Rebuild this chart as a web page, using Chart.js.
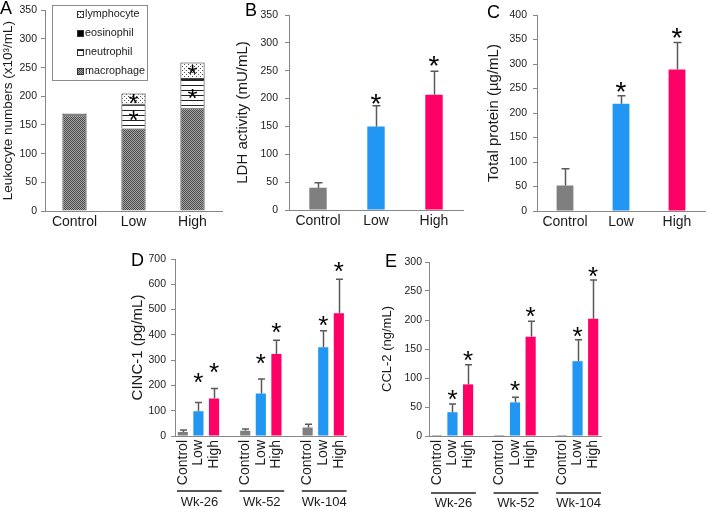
<!DOCTYPE html>
<html>
<head>
<meta charset="utf-8">
<script src="https://cdn.jsdelivr.net/npm/chart.js@4.4.1/dist/chart.umd.min.js"></script>
<style>
  html, body { margin: 0; padding: 0; background: #fff; }
  #page { position: relative; width: 708px; height: 508px; overflow: hidden; }
  canvas { position: absolute; }
</style>
</head>
<body>
<div id="page">
  <canvas id="chartA" width="230" height="240" style="left:0;top:0"></canvas>
  <canvas id="chartB" width="240" height="240" style="left:230px;top:0"></canvas>
  <canvas id="chartC" width="238" height="240" style="left:470px;top:0"></canvas>
  <canvas id="chartD" width="270" height="263" style="left:90px;top:245px"></canvas>
  <canvas id="chartE" width="250" height="263" style="left:365px;top:245px"></canvas>
</div>
<script>
// ================= DATA =================
const doses = ["Control", "Low", "High"];
const weeks = ["Wk-26", "Wk-52", "Wk-104"];

// A: leukocyte differential (x10^3/mL), stacked bottom to top
const cellTypes = ["macrophage", "neutrophil", "eosinophil", "lymphocyte"];
const macrophage = [167, 144, 179];
const neutrophil = [2, 42, 51];
const eosinophil = [0.5, 1, 2];
const lymphocyte = [1, 18, 27];
const starNeutrophil = [false, true, true];
const starLymphocyte = [false, true, true];
const yMaxA = 350, yStepA = 50;

// B: LDH activity (mU/mL)
const ldhMean = [40, 150, 207];
const ldhSd = [9, 37, 42];
const ldhStar = [null, 199, 267];
const yMaxB = 350, yStepB = 50;

// C: total protein (ug/mL)
const proteinMean = [52, 219, 289];
const proteinSd = [34, 16, 55];
const proteinStar = [null, 254, 363];
const yMaxC = 400, yStepC = 50;

// D: CINC-1 (pg/mL), one value per week
const cincControl = [16, 21, 34];
const cincLow = [98, 168, 351];
const cincHigh = [148, 324, 485];
const cincControlSd = [8, 7, 12];
const cincLowSd = [34, 57, 65];
const cincHighSd = [40, 55, 135];
const cincControlStar = [null, null, null];
const cincLowStar = [230, 304, 454];
const cincHighStar = [267, 429, 670];
const yMaxD = 700, yStepD = 100;

// E: CCL-2 (ng/mL), one value per week
const ccl2Control = [0.6, 0.6, 1];
const ccl2Low = [41, 58, 129];
const ccl2High = [89, 171, 202];
const ccl2ControlSd = [0, 0, 0];
const ccl2LowSd = [14, 9, 37];
const ccl2HighSd = [34, 27, 67];
const ccl2ControlStar = [null, null, null];
const ccl2LowStar = [70, 86, 180];
const ccl2HighStar = [138, 213, 283];
const yMaxE = 300, yStepE = 50;


// ================= STYLE =================
const FONT = "'Liberation Sans', Arial, sans-serif";
const AXIS = "#878787";
const TEXT = "#1a1a1a";
const ERR = "#5a5a5a";
const doseColors = ["#7f7f7f", "#2196f3", "#ff0066"];


// ================= PATTERNS =================
function makePattern(w, h, draw) {
    const c = document.createElement("canvas");
    c.width = w;
    c.height = h;
    const g = c.getContext("2d");
    draw(g);
    return g.createPattern(c, "repeat");
}

const cellFills = [
    makePattern(2, 2, g => {
        g.fillStyle = "#a6a6a6"; g.fillRect(0, 0, 2, 2);
        g.fillStyle = "#4a4a4a"; g.fillRect(0, 0, 1, 1); g.fillRect(1, 1, 1, 1);
    }),
    makePattern(1, 5, g => {
        g.fillStyle = "#ffffff"; g.fillRect(0, 0, 1, 5);
        g.fillStyle = "#222222"; g.fillRect(0, 0, 1, 1);
    }),
    "#000000",
    makePattern(4, 4, g => {
        g.fillStyle = "#ffffff"; g.fillRect(0, 0, 4, 4);
        g.fillStyle = "#555555"; g.fillRect(0, 0, 1, 1); g.fillRect(2, 2, 1, 1);
    })
];


// ================= HELPERS =================
function yScale(max, step, title, titleSize, titlePad, tickPad, width) {
    return {
        min: 0,
        max: max,
        ticks: { stepSize: step, padding: tickPad, color: TEXT, font: { family: FONT, size: 10.5 } },
        grid: { drawOnChartArea: false, drawTicks: true, tickLength: 4, color: AXIS },
        border: { color: AXIS, width: 1 },
        title: {
            display: true, text: title, color: TEXT,
            font: { family: FONT, size: titleSize },
            padding: { top: titlePad, bottom: 0 }
        },
        afterFit: s => { s.width = width; }
    };
}

function xScale(height, rotated, pad) {
    return {
        offset: true,
        grid: { display: false, drawTicks: false },
        border: { color: AXIS, width: 1 },
        ticks: {
            color: TEXT, font: { family: FONT, size: 14 }, padding: pad,
            autoSkip: false, minRotation: rotated ? 90 : 0, maxRotation: rotated ? 90 : 0
        },
        afterFit: s => { s.height = height; }
    };
}

function drawStar(ctx, x, cy, size) {
    ctx.save();
    ctx.font = size + "px " + FONT;
    ctx.fillStyle = "#000";
    ctx.textAlign = "center";
    ctx.textBaseline = "alphabetic";
    const m = ctx.measureText("*");
    ctx.fillText("*", x, cy + (m.actualBoundingBoxAscent - m.actualBoundingBoxDescent) / 2);
    ctx.restore();
}

function drawLetter(ctx, letter, x, y) {
    ctx.save();
    ctx.font = "18px " + FONT;
    ctx.fillStyle = "#000";
    ctx.textAlign = "left";
    ctx.textBaseline = "alphabetic";
    ctx.fillText(letter, x, y);
    ctx.restore();
}

// error bars, stars, panel letter, week groups
function marks(extra) {
    return {
        id: "marks",
        afterDatasetsDraw(chart) {
            const ctx = chart.ctx;
            const y = chart.scales.y;
            if (extra.values) {
                const meta = chart.getDatasetMeta(0);
                meta.data.forEach((bar, i) => {
                    const v = extra.values[i];
                    if (v == null) return;
                    const sd = extra.errors[i];
                    if (sd) {
                        const x = Math.round(bar.x) + 0.5;
                        const top = y.getPixelForValue(v + sd);
                        ctx.save();
                        ctx.strokeStyle = ERR;
                        ctx.lineWidth = 1.5;
                        ctx.beginPath();
                        ctx.moveTo(x, bar.y);
                        ctx.lineTo(x, top);
                        ctx.moveTo(x - extra.cap, top);
                        ctx.lineTo(x + extra.cap, top);
                        ctx.stroke();
                        ctx.restore();
                    }
                    const s = extra.stars[i];
                    if (s != null) drawStar(ctx, bar.x, y.getPixelForValue(s), extra.starSize);
                });
            }
            if (extra.segmentStars) {
                extra.segmentStars.forEach(([dsIndex, flags]) => {
                    const meta = chart.getDatasetMeta(dsIndex);
                    meta.data.forEach((bar, i) => {
                        if (flags[i]) drawStar(ctx, bar.x, (bar.y + bar.base) / 2, extra.starSize);
                    });
                });
            }
        },
        afterDraw(chart) {
            const ctx = chart.ctx;
            drawLetter(ctx, extra.letter, extra.letterX, extra.letterY);

            if (extra.groups) {
                const x = chart.scales.x;
                const half = (x.getPixelForValue(1) - x.getPixelForValue(0)) / 2;
                extra.groups.forEach((name, g) => {
                    const x0 = x.getPixelForValue(g * 4) - half + 2;
                    const x1 = x.getPixelForValue(g * 4 + 2) + half;
                    ctx.save();
                    ctx.strokeStyle = "#222";
                    ctx.lineWidth = 1.5;
                    ctx.beginPath();
                    ctx.moveTo(x0, extra.groupLineY);
                    ctx.lineTo(x1, extra.groupLineY);
                    ctx.stroke();
                    ctx.font = "13px " + FONT;
                    ctx.fillStyle = TEXT;
                    ctx.textAlign = "center";
                    ctx.textBaseline = "middle";
                    ctx.fillText(name, (x0 + x1) / 2, extra.groupLabelY);
                    ctx.restore();
                });
            }

            if (extra.legend) {
                const L = extra.legend;
                ctx.save();
                ctx.strokeStyle = "#8c8c8c";
                ctx.lineWidth = 1;
                ctx.strokeRect(L.x + 0.5, L.y + 0.5, L.w, L.h);
                ctx.font = "10.8px " + FONT;
                ctx.textBaseline = "middle";
                ctx.textAlign = "left";
                const ds = chart.data.datasets.slice().reverse();
                ds.forEach((d, i) => {
                    const cy = L.y + L.first + i * L.step;
                    ctx.fillStyle = d.backgroundColor;
                    ctx.fillRect(L.swatchX, cy - 3, 7, 7);
                    ctx.strokeStyle = "#333";
                    ctx.strokeRect(L.swatchX + 0.5, cy - 2.5, 6, 6);
                    ctx.fillStyle = TEXT;
                    ctx.fillText(d.label, L.swatchX + 8, cy + 0.5);
                });
                ctx.restore();
            }
        }
    };
}

function baseOptions(padding, scales) {
    return {
        responsive: false,
        animation: false,
        devicePixelRatio: 1,
        events: [],
        layout: { padding: padding },
        plugins: { legend: { display: false }, tooltip: { enabled: false } },
        scales: scales
    };
}

function buildGrouped(series, sds, stars) {
    const out = { labels: [], values: [], errors: [], stars: [], colors: [] };
    weeks.forEach((wk, g) => {
        if (g > 0) {
            out.labels.push("");
            out.values.push(null);
            out.errors.push(null);
            out.stars.push(null);
            out.colors.push("rgba(0,0,0,0)");
        }
        doses.forEach((dose, d) => {
            out.labels.push(dose);
            out.values.push(series[d][g]);
            out.errors.push(sds[d][g]);
            out.stars.push(stars[d][g]);
            out.colors.push(doseColors[d]);
        });
    });
    return out;
}


// ================= PANEL A =================
const cellValues = [macrophage, neutrophil, eosinophil, lymphocyte];

const xA = xScale(29, false, 3);
xA.stacked = true;
const yA = yScale(yMaxA, yStepA, "Leukocyte numbers (x10\u00b3/mL)", 13.5, 0, 4, 45);
yA.stacked = true;

new Chart(document.getElementById("chartA"), {
    type: "bar",
    data: {
        labels: doses,
        datasets: cellTypes.map((name, i) => ({
            label: name,
            data: cellValues[i],
            backgroundColor: cellFills[i],
            borderColor: "#262626",
            borderWidth: 1,
            barPercentage: 0.41,
            categoryPercentage: 1
        }))
    },
    options: baseOptions({ left: 0, top: 7, right: 8, bottom: 0 }, { x: xA, y: yA }),
    plugins: [marks({
        letter: "A", letterX: 0, letterY: 14, starSize: 26,
        segmentStars: [[1, starNeutrophil], [3, starLymphocyte]],
        legend: { x: 52, y: 5, w: 95, h: 75, first: 9, step: 19, swatchX: 77 }
    })]
});


// ================= PANELS B, C =================
function simpleChart(id, mean, sd, star, yMax, yStep, title, titlePad, tickPad, yWidth, padding, xHeight, letter, lx, ly) {
    new Chart(document.getElementById(id), {
        type: "bar",
        data: {
            labels: doses,
            datasets: [{
                data: mean,
                backgroundColor: doseColors,
                borderWidth: 0,
                barPercentage: 0.3,
                categoryPercentage: 1
            }]
        },
        options: baseOptions(padding, {
            x: xScale(xHeight, false, 3),
            y: yScale(yMax, yStep, title, 15, titlePad, tickPad, yWidth)
        }),
        plugins: [marks({
            letter: letter, letterX: lx, letterY: ly,
            values: mean, errors: sd, stars: star, cap: 4, starSize: 28
        })]
    });
}

simpleChart("chartB", ldhMean, ldhSd, ldhStar, yMaxB, yStepB, "LDH activity (mU/mL)", 3.5, 7, 59,
    { left: 0, top: 15, right: 7, bottom: 0 }, 30, "B", 15, 16);

simpleChart("chartC", proteinMean, proteinSd, proteinStar, yMaxC, yStepC, "Total protein (\u00b5g/mL)", 15, 6, 67,
    { left: 0, top: 15, right: 3, bottom: 0 }, 29, "C", 17, 18);


// ================= PANELS D, E =================
function groupedChart(id, g, yMax, yStep, title, titleSize, titlePad, tickPad, yWidth, padding, letter, lx, ly, lineY, labelY) {
    new Chart(document.getElementById(id), {
        type: "bar",
        data: {
            labels: g.labels,
            datasets: [{
                data: g.values,
                backgroundColor: g.colors,
                borderWidth: 0,
                minBarLength: 1,
                barPercentage: 0.65,
                categoryPercentage: 1
            }]
        },
        options: baseOptions(padding, {
            x: xScale(72, true, 4),
            y: yScale(yMax, yStep, title, titleSize, titlePad, tickPad, yWidth)
        }),
        plugins: [marks({
            letter: letter, letterX: lx, letterY: ly,
            values: g.values, errors: g.errors, stars: g.stars, cap: 3.5, starSize: 26,
            groups: weeks, groupLineY: lineY, groupLabelY: labelY
        })]
    });
}

const groupD = buildGrouped(
    [cincControl, cincLow, cincHigh],
    [cincControlSd, cincLowSd, cincHighSd],
    [cincControlStar, cincLowStar, cincHighStar]
);
groupedChart("chartD", groupD, yMaxD, yStepD, "CINC-1 (pg/mL)", 15, 39, 5, 85,
    { left: 0, top: 14, right: 8, bottom: 0 }, "D", 41, 21, 246, 257);

const groupE = buildGrouped(
    [ccl2Control, ccl2Low, ccl2High],
    [ccl2ControlSd, ccl2LowSd, ccl2HighSd],
    [ccl2ControlStar, ccl2LowStar, ccl2HighStar]
);
groupedChart("chartE", groupE, yMaxE, yStepE, "CCL-2 (ng/mL)", 13, 15, 3, 64,
    { left: 0, top: 17, right: 14, bottom: 0 }, "E", 20, 22, 248, 258);
</script>
</body>
</html>
